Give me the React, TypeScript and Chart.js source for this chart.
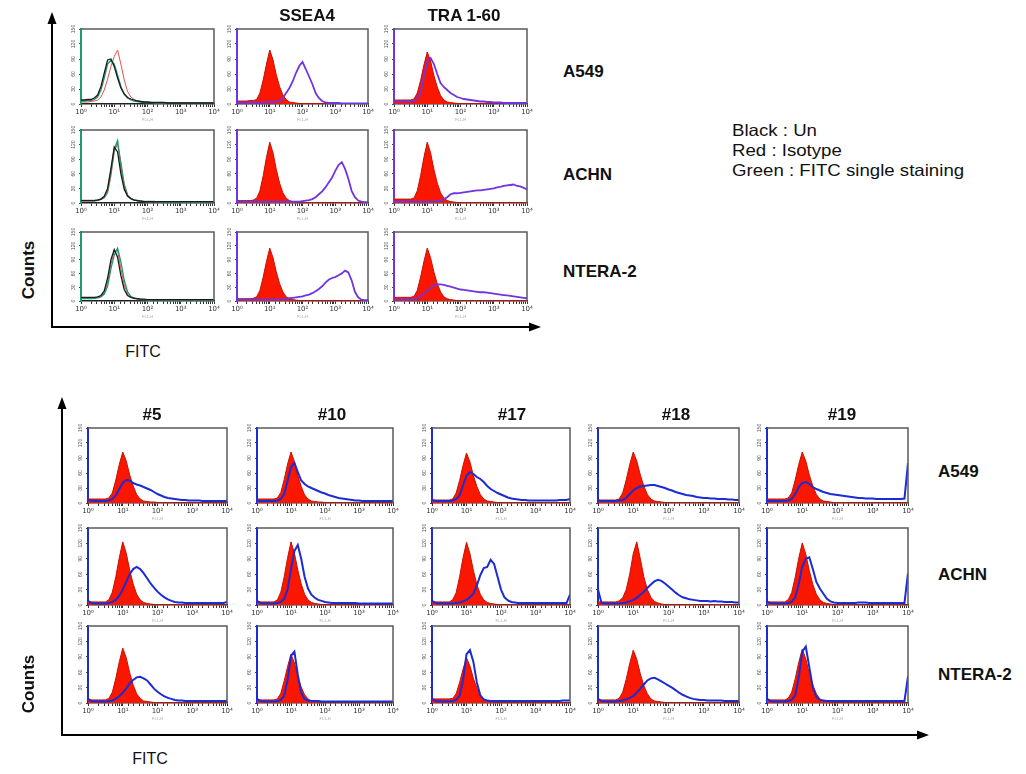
import React, { useEffect, useRef } from 'react';
import { Chart, registerables } from 'chart.js';

Chart.register(...registerables);

const FONT = "'Liberation Sans', Arial, sans-serif";

// FL1-H channel positions (log-spaced, 10 per decade), shared by every histogram
const FL1_H = [
  1, 1.259, 1.585, 1.995, 2.512, 3.162, 3.981, 5.012, 6.31, 7.943,
  10, 12.59, 15.85, 19.95, 25.12, 31.62, 39.81, 50.12, 63.1, 79.43,
  100, 125.9, 158.5, 199.5, 251.2, 316.2, 398.1, 501.2, 631, 794.3,
  1000, 1259, 1585, 1995, 2512, 3162, 3981, 5012, 6310, 7943,
  10000,
];
const X_TICK_LABELS = ['10⁰', '10¹', '10²', '10³', '10⁴'];
const Y_MAX = 150;
const Y_STEP = 30;

const TOP_ROWS = ['A549', 'ACHN', 'NTERA-2'];
const TOP_COLS = ['', 'SSEA4', 'TRA 1-60'];
const BOTTOM_ROWS = ['A549', 'ACHN', 'NTERA-2'];
const BOTTOM_COLS = ['#5', '#10', '#17', '#18', '#19'];
const LEGEND_LINES = ['Black : Un', 'Red : Isotype', 'Green : FITC single staining'];

// ---------- top panel: controls (Un / Isotype / FITC single staining) ----------
const A549_UN = [8,8,9,9,12,18,35,62,88,90, 75,52,32,20,13,10,8,6,5,4, 4,3,3,3,3,3,2,2,2,2, 2,2,2,2,2,2,2,2,2,2, 2];
const A549_FITC = [6,6,7,7,9,14,28,52,80,88, 80,58,35,20,12,8,6,5,4,3, 3,3,2,2,2,2,2,2,2,2, 2,2,2,2,2,2,2,2,2,2, 2];
const A549_ISO_CTRL = [4,4,4,5,6,8,14,28,50,75, 95,108,80,48,25,14,9,6,5,4, 3,3,3,2,2,2,2,2,2,2, 2,2,2,2,2,2,2,2,2,2, 2];

const ACHN_UN = [5,5,5,5,5,6,8,14,30,70, 115,105,60,28,14,9,6,5,4,3, 3,3,3,3,3,3,3,3,3,3, 3,3,3,3,3,3,3,3,3,3, 3];
const ACHN_FITC = [5,5,5,5,5,6,8,12,25,65, 110,128,75,35,15,9,6,5,4,3, 3,3,3,2,2,2,2,2,2,2, 2,2,2,2,2,2,2,2,2,2, 2];
const ACHN_ISO_CTRL = [4,4,4,4,4,5,7,10,20,55, 105,122,85,40,18,10,6,4,3,3, 2,2,2,2,2,2,2,2,2,2, 2,2,2,2,2,2,2,2,2,2, 2];

const NTERA_UN = [8,8,8,8,8,9,12,22,50,90, 112,95,55,25,12,8,6,5,4,4, 3,3,3,3,3,3,3,3,3,3, 3,3,3,3,3,3,3,3,3,3, 3];
const NTERA_FITC = [5,5,5,5,6,7,9,15,32,70, 100,115,85,45,20,10,6,4,3,3, 2,2,2,2,2,2,2,2,2,2, 2,2,2,2,2,2,2,2,2,2, 2];
const NTERA_ISO_CTRL = [6,6,6,6,7,8,10,18,40,80, 108,110,70,35,15,9,6,5,4,3, 3,3,3,3,3,2,2,2,2,2, 2,2,2,2,2,2,2,2,2,2, 2];

// ---------- top panel: SSEA4 / TRA 1-60 ----------
const A549_SSEA4_ISO = [6,6,6,6,7,7,9,22,48,80, 108,88,58,35,18,9,4,3,2,1, 1,1,1,1,1,1,1,1,1,1, 1,1,1,1,1,1,1,1,1,1, 1];
const A549_SSEA4 = [4,3,3,3,3,3,3,3,3,4, 4,4,5,6,12,22,32,45,62,76, 84,70,55,40,22,12,6,3,2,2, 2,2,1,1,1,1,1,1,1,1, 1];
const A549_TRA_ISO = [8,8,8,8,8,8,10,22,47,78, 104,86,57,34,17,8,4,3,2,1, 1,1,1,1,1,1,1,1,1,1, 1,1,1,1,1,1,1,1,1,1, 1];
const A549_TRA = [5,5,5,5,5,5,6,10,22,55, 85,92,80,60,42,34,28,22,18,14, 12,10,9,8,7,6,5,5,4,4, 3,3,3,2,2,2,2,2,2,2, 2];

const ACHN_SSEA4_ISO = [5,5,5,5,5,6,10,25,56,94, 125,103,69,41,21,10,5,3,2,1, 1,1,1,1,1,1,1,1,1,1, 1,1,1,1,1,1,1,1,1,1, 1];
const ACHN_SSEA4 = [4,3,3,3,3,3,3,3,3,3, 3,3,3,3,3,3,3,3,3,3, 4,5,6,8,12,18,24,32,42,52, 66,78,84,70,50,25,12,5,3,2, 2];
const ACHN_TRA_ISO = [8,8,8,8,8,8,10,25,56,94, 125,103,69,41,21,10,5,3,2,1, 1,1,1,1,1,1,1,1,1,1, 1,1,1,1,1,1,1,1,1,1, 1];
const ACHN_TRA = [3,3,3,3,3,3,3,3,3,3, 3,3,3,4,5,8,12,18,20,20, 21,22,23,24,25,26,26,27,28,29, 30,32,33,35,36,37,38,35,34,31, 28];

const NTERA_SSEA4_ISO = [5,5,5,5,5,6,9,23,52,86, 115,94,63,38,20,9,5,3,2,1, 1,1,1,1,1,1,1,1,1,1, 1,1,1,1,1,1,1,1,1,1, 1];
const NTERA_SSEA4 = [3,3,3,3,3,3,3,3,3,3, 3,3,3,3,4,5,6,7,8,9, 10,12,14,17,21,26,32,40,46,50, 52,56,60,66,62,45,20,8,3,2, 2];
const NTERA_TRA_ISO = [8,8,8,8,8,8,10,23,52,86, 115,94,63,38,20,9,5,3,2,1, 1,1,1,1,1,1,1,1,1,1, 1,1,1,1,1,1,1,1,1,1, 1];
const NTERA_TRA = [3,3,3,3,3,3,4,6,10,16, 22,28,34,36,36,35,33,31,29,27, 25,24,23,22,21,20,19,19,18,17, 16,15,14,13,12,11,10,9,8,7, 6];

// ---------- bottom panel: clones #5 #10 #17 #18 #19 ----------
const C5_A549_ISO = [8,8,8,8,8,8,10,20,46,77, 102,84,56,34,17,8,4,3,2,2, 1,1,1,1,1,1,1,1,1,1, 1,1,1,1,1,1,1,1,1,1, 1];
const C5_A549 = [6,5,4,4,4,4,5,8,15,28, 40,46,45,40,37,35,32,29,26,22, 18,15,12,10,9,8,7,6,6,5, 5,5,5,4,4,4,4,4,4,4, 4];
const C10_A549_ISO = [8,8,8,8,8,8,10,21,47,78, 102,83,55,33,16,8,4,3,2,2, 1,1,1,1,1,1,1,1,1,1, 1,1,1,1,1,1,1,1,1,1, 1];
const C10_A549 = [5,4,4,4,4,4,5,8,18,45, 72,80,62,45,38,33,30,27,24,21, 19,16,14,12,10,9,8,7,6,5, 5,4,4,4,4,4,4,4,4,4, 4];
const C17_A549_ISO = [6,6,6,6,6,6,8,20,45,75, 100,82,55,33,17,8,4,3,2,1, 1,1,1,1,1,1,1,1,1,1, 1,1,1,1,1,1,1,1,1,1, 1];
const C17_A549 = [6,4,4,4,4,4,5,8,15,35, 55,62,58,52,48,42,34,28,24,20, 17,14,11,9,8,7,6,6,5,5, 5,5,5,5,5,5,5,6,6,6, 8];
const C18_A549_ISO = [6,6,6,6,6,6,8,20,46,77, 102,84,56,34,17,8,4,3,2,1, 1,1,1,1,1,1,1,1,1,1, 1,1,1,1,1,1,1,1,1,1, 1];
const C18_A549 = [5,4,4,4,4,4,5,6,10,18, 25,30,33,34,35,36,36,34,32,30, 27,25,22,20,18,16,15,14,12,11, 10,10,9,9,8,8,8,7,7,6, 6];
const C19_A549_ISO = [8,8,8,8,8,8,10,20,46,77, 102,84,56,34,17,8,4,3,2,1, 1,1,1,1,1,1,1,1,1,1, 1,1,1,1,1,1,1,1,1,1, 1];
const C19_A549 = [5,4,4,4,4,4,5,8,18,32, 40,42,38,32,28,25,22,20,18,17, 16,15,14,13,12,11,10,10,9,9, 9,8,8,8,8,8,8,8,8,9, 80];

const C5_ACHN_ISO = [6,6,6,6,6,6,10,25,55,92, 123,101,68,41,21,10,5,3,2,1, 1,1,1,1,1,1,1,1,1,1, 1,1,1,1,1,1,1,1,1,1, 1];
const C5_ACHN = [8,4,3,3,3,3,4,6,10,18, 30,45,60,70,74,70,62,52,42,34, 26,20,15,11,8,6,5,5,4,4, 4,4,4,4,4,4,4,4,4,4, 6];
const C10_ACHN_ISO = [6,6,6,6,6,6,10,25,55,92, 123,101,68,41,21,10,5,3,2,1, 1,1,1,1,1,1,1,1,1,1, 1,1,1,1,1,1,1,1,1,1, 1];
const C10_ACHN = [8,4,3,3,3,3,4,6,12,30, 70,105,117,90,55,32,20,14,10,8, 6,5,4,4,4,4,4,4,4,4, 3,3,3,3,3,3,3,3,3,3, 3];
const C17_ACHN_ISO = [6,6,6,6,6,6,10,24,55,92, 122,100,67,40,21,10,5,3,2,1, 1,1,1,1,1,1,1,1,1,1, 1,1,1,1,1,1,1,1,1,1, 1];
const C17_ACHN = [8,4,3,3,3,3,3,4,5,7, 10,15,22,38,58,72,74,88,80,55, 30,15,9,6,5,4,4,4,4,4, 4,4,4,4,4,4,4,4,4,4, 20];
const C18_ACHN_ISO = [6,6,6,6,6,6,8,14,30,60, 100,123,90,55,30,15,7,4,2,1, 1,1,1,1,1,1,1,1,1,1, 1,1,1,1,1,1,1,1,1,1, 1];
const C18_ACHN = [30,4,3,3,3,3,3,4,5,7, 10,14,20,26,33,40,46,49,47,42, 36,30,24,19,15,13,11,10,9,8, 8,8,7,8,7,7,6,6,6,5, 5];
const C19_ACHN_ISO = [6,6,6,6,6,6,10,24,54,91, 121,99,67,40,21,10,5,3,2,1, 1,1,1,1,1,1,1,1,1,1, 1,1,1,1,1,1,1,1,1,1, 1];
const C19_ACHN = [6,4,3,3,3,3,4,6,15,40, 75,90,93,70,45,32,22,12,7,5, 4,4,4,4,4,4,5,5,5,4, 4,4,4,4,4,4,4,4,4,4, 62];

const C5_NTERA_ISO = [6,6,6,6,6,6,9,21,48,80, 107,88,59,35,18,9,4,3,2,1, 1,1,1,1,1,1,1,1,1,1, 1,1,1,1,1,1,1,1,1,1, 1];
const C5_NTERA = [8,4,3,3,3,3,4,5,8,13, 20,28,38,45,50,51,48,44,36,28, 22,17,13,10,8,6,5,5,4,4, 4,4,4,4,4,4,4,4,4,4, 4];
const C10_NTERA_ISO = [6,6,6,6,6,6,8,19,43,71, 95,78,52,31,16,8,4,3,2,1, 1,1,1,1,1,1,1,1,1,1, 1,1,1,1,1,1,1,1,1,1, 1];
const C10_NTERA = [8,4,3,3,3,3,4,6,14,45, 92,100,55,20,8,5,4,4,4,3, 3,3,3,3,3,3,3,3,3,3, 3,3,3,3,3,3,3,3,3,3, 3];
const C17_NTERA_ISO = [8,8,8,8,8,8,9,18,40,66, 88,72,48,29,15,7,4,3,2,1, 1,1,1,1,1,1,1,1,1,1, 1,1,1,1,1,1,1,1,1,1, 1];
const C17_NTERA = [8,4,3,3,3,3,4,6,14,45, 95,103,80,40,15,7,5,4,4,4, 4,4,4,4,4,4,4,4,4,4, 4,4,4,4,4,4,4,4,5,5, 5];
const C18_NTERA_ISO = [6,6,6,6,6,6,9,21,46,77, 103,85,57,34,18,8,4,3,2,1, 1,1,1,1,1,1,1,1,1,1, 1,1,1,1,1,1,1,1,1,1, 1];
const C18_NTERA = [8,4,3,3,3,3,4,5,7,10, 14,20,28,36,44,48,49,46,42,38, 34,30,25,20,16,13,10,8,7,6, 6,5,5,5,5,5,4,4,4,4, 4];
const C19_NTERA_ISO = [6,6,6,6,6,6,9,21,47,79, 105,86,58,35,18,8,4,3,2,1, 1,1,1,1,1,1,1,1,1,1, 1,1,1,1,1,1,1,1,1,1, 1];
const C19_NTERA = [8,4,3,3,3,3,4,6,15,50, 100,110,70,30,12,6,5,4,4,4, 4,4,4,4,4,4,4,4,4,4, 4,4,4,4,4,4,4,4,4,4, 52];

// ---------- styles ----------
const PURPLE = '#7035e2';
const BLUE = '#1b2cd4';
const ISO_FILL = '#fb1600';
const ISO_EDGE = '#c41200';
const BLACK_LINE = '#1c1c1c';
const RED_LINE = '#e2534c';
const GREEN_LINE = '#1e9a72';

type Series = { values: number[]; color: string; width: number; fill?: string };
type PanelSpec = { left: number; top: number; width: number; height: number; axisColor: string; series: Series[] };

const line = (values: number[], color: string, width = 1.8): Series => ({ values, color, width });
const iso = (values: number[]): Series => ({ values, color: ISO_EDGE, width: 1, fill: ISO_FILL });

const TOP_SERIES: Series[][][] = [
  [
    [line(A549_UN, BLACK_LINE, 1.3), line(A549_FITC, GREEN_LINE, 1.3), line(A549_ISO_CTRL, RED_LINE, 1)],
    [line(A549_SSEA4, PURPLE), iso(A549_SSEA4_ISO)],
    [line(A549_TRA, PURPLE), iso(A549_TRA_ISO)],
  ],
  [
    [line(ACHN_UN, BLACK_LINE, 1.3), line(ACHN_FITC, GREEN_LINE, 1.5), line(ACHN_ISO_CTRL, RED_LINE, 1)],
    [line(ACHN_SSEA4, PURPLE), iso(ACHN_SSEA4_ISO)],
    [line(ACHN_TRA, PURPLE), iso(ACHN_TRA_ISO)],
  ],
  [
    [line(NTERA_UN, BLACK_LINE, 1.3), line(NTERA_FITC, GREEN_LINE, 1.3), line(NTERA_ISO_CTRL, RED_LINE, 1)],
    [line(NTERA_SSEA4, PURPLE), iso(NTERA_SSEA4_ISO)],
    [line(NTERA_TRA, PURPLE), iso(NTERA_TRA_ISO)],
  ],
];

const BOTTOM_SERIES: Series[][][] = [
  [
    [line(C5_A549, BLUE, 2), iso(C5_A549_ISO)],
    [line(C10_A549, BLUE, 2), iso(C10_A549_ISO)],
    [line(C17_A549, BLUE, 2), iso(C17_A549_ISO)],
    [line(C18_A549, BLUE, 2), iso(C18_A549_ISO)],
    [line(C19_A549, BLUE, 2), iso(C19_A549_ISO)],
  ],
  [
    [line(C5_ACHN, BLUE, 2), iso(C5_ACHN_ISO)],
    [line(C10_ACHN, BLUE, 2), iso(C10_ACHN_ISO)],
    [line(C17_ACHN, BLUE, 2), iso(C17_ACHN_ISO)],
    [line(C18_ACHN, BLUE, 2), iso(C18_ACHN_ISO)],
    [line(C19_ACHN, BLUE, 2), iso(C19_ACHN_ISO)],
  ],
  [
    [line(C5_NTERA, BLUE, 2), iso(C5_NTERA_ISO)],
    [line(C10_NTERA, BLUE, 2), iso(C10_NTERA_ISO)],
    [line(C17_NTERA, BLUE, 2), iso(C17_NTERA_ISO)],
    [line(C18_NTERA, BLUE, 2), iso(C18_NTERA_ISO)],
    [line(C19_NTERA, BLUE, 2), iso(C19_NTERA_ISO)],
  ],
];

// ---------- layout (plot-area boxes, in page pixels) ----------
const TOP_X = [81, 237, 394];
const TOP_W = [133, 131, 133];
const TOP_Y = [29, 130, 232];
const TOP_H = [75, 73, 69];
const BOT_X = [88, 257, 432, 598, 767];
const BOT_W = [139, 136, 138, 141, 141];
const BOT_Y = [428, 528, 626];
const BOT_H = [75, 77, 77];

const Y_AXIS_W = 14;
const X_AXIS_H = 18;
const PAD_TOP = 6;
const PAD_RIGHT = 8;

const PANELS: PanelSpec[] = [];
TOP_SERIES.forEach((row, r) =>
  row.forEach((series, c) =>
    PANELS.push({
      left: TOP_X[c], top: TOP_Y[r], width: TOP_W[c], height: TOP_H[r],
      axisColor: c === 0 ? GREEN_LINE : PURPLE, series,
    })
  )
);
BOTTOM_SERIES.forEach((row, r) =>
  row.forEach((series, c) =>
    PANELS.push({ left: BOT_X[c], top: BOT_Y[r], width: BOT_W[c], height: BOT_H[r], axisColor: BLUE, series })
  )
);

const framePlugin = {
  id: 'plotFrame',
  afterDraw(chart: any) {
    const { ctx, chartArea: a } = chart;
    ctx.save();
    ctx.strokeStyle = '#5a5a5a';
    ctx.lineWidth = 1.5;
    ctx.beginPath();
    ctx.moveTo(a.left, a.top);
    ctx.lineTo(a.right, a.top);
    ctx.lineTo(a.right, a.bottom);
    ctx.stroke();
    ctx.restore();
  },
};

function MiniHistogram({ spec }: { spec: PanelSpec }) {
  const ref = useRef<HTMLCanvasElement>(null);
  const cw = spec.width + Y_AXIS_W + PAD_RIGHT;
  const ch = spec.height + PAD_TOP + X_AXIS_H;
  useEffect(() => {
    if (!ref.current) return;
    const chart = new Chart(ref.current, {
      type: 'line',
      data: {
        datasets: spec.series.map((s) => ({
          data: FL1_H.map((x, i) => ({ x, y: s.values[i] })),
          borderColor: s.color,
          borderWidth: s.width,
          backgroundColor: s.fill ?? 'rgba(0,0,0,0)',
          fill: s.fill ? 'origin' : false,
          pointRadius: 0,
          tension: 0,
        })),
      },
      options: {
        animation: false,
        responsive: false,
        maintainAspectRatio: false,
        devicePixelRatio: 1,
        events: [],
        layout: { padding: { top: PAD_TOP, right: PAD_RIGHT, left: 0, bottom: 0 } },
        plugins: { legend: { display: false }, tooltip: { enabled: false } },
        scales: {
          x: {
            type: 'logarithmic',
            min: 1,
            max: 10000,
            grid: { display: true, drawOnChartArea: false, drawTicks: true, tickLength: 3, color: '#333', lineWidth: 1 },
            border: { display: true, color: '#222', width: 1.5 },
            ticks: {
              autoSkip: false,
              maxRotation: 0,
              minRotation: 0,
              padding: 1,
              color: '#333',
              font: { size: 7, family: "'DejaVu Sans', sans-serif" },
              callback: (v: any) => {
                const n = Number(v);
                const e = Math.round(Math.log10(n));
                return Math.abs(n - Math.pow(10, e)) < 1e-6 ? X_TICK_LABELS[e] : '';
              },
            },
            title: { display: true, text: 'FL1-H', color: '#aaa', font: { size: 4 }, padding: 0 },
            afterFit: (s: any) => {
              s.height = X_AXIS_H;
              s.paddingLeft = 0;
              s.paddingRight = 0;
            },
          },
          y: {
            type: 'linear',
            min: 0,
            max: Y_MAX,
            grid: { display: true, drawOnChartArea: false, drawTicks: true, tickLength: 2, color: '#444' },
            border: { display: true, color: spec.axisColor, width: 2 },
            ticks: {
              stepSize: Y_STEP,
              minRotation: 90,
              maxRotation: 90,
              crossAlign: 'center',
              padding: 1,
              color: '#555',
              font: { size: 5, family: FONT },
            },
            afterFit: (s: any) => {
              s.width = Y_AXIS_W;
              s.paddingTop = 0;
              s.paddingBottom = 0;
            },
          },
        },
      } as any,
      plugins: [framePlugin],
    });
    return () => chart.destroy();
  }, [spec]);
  return (
    <canvas
      ref={ref}
      width={cw}
      height={ch}
      style={{ position: 'absolute', left: spec.left - Y_AXIS_W, top: spec.top - PAD_TOP, width: cw, height: ch }}
    />
  );
}

const centered = (x: number, y: number, extra: React.CSSProperties = {}): React.CSSProperties => ({
  position: 'absolute',
  left: x,
  top: y,
  transform: 'translate(-50%, -50%)',
  whiteSpace: 'nowrap',
  lineHeight: 1,
  color: '#111',
  ...extra,
});

const TOP_COL_CX = [147, 307, 464];
const TOP_ROW_CY = [72, 175, 272];
const BOT_COL_CX = [152, 332, 512, 676, 842];
const BOT_ROW_CY = [472, 575, 675];

export default function App() {
  return (
    <div
      style={{
        position: 'absolute', left: 0, top: 0, width: 1026, height: 774,
        background: '#fff', fontFamily: FONT, overflow: 'hidden',
      }}
    >
      <svg width={1026} height={774} style={{ position: 'absolute', left: 0, top: 0 }}>
        <line x1={52} y1={22} x2={52} y2={328} stroke="#000" strokeWidth={2} />
        <polygon points="52,12 47.5,24 56.5,24" fill="#000" />
        <line x1={51} y1={327} x2={530} y2={327} stroke="#000" strokeWidth={2} />
        <polygon points="541,327 529,322.5 529,331.5" fill="#000" />
        <line x1={62} y1={407} x2={62} y2={736} stroke="#000" strokeWidth={2} />
        <polygon points="62,397 57.5,409 66.5,409" fill="#000" />
        <line x1={61} y1={735} x2={918} y2={735} stroke="#000" strokeWidth={2} />
        <polygon points="929,735 917,730.5 917,739.5" fill="#000" />
      </svg>

      {PANELS.map((p, i) => (
        <MiniHistogram key={i} spec={p} />
      ))}

      {TOP_COLS.map((t, i) =>
        t ? (
          <div key={'tc' + i} style={centered(TOP_COL_CX[i], 15, { fontSize: 17, fontWeight: 'bold' })}>
            {t}
          </div>
        ) : null
      )}
      {TOP_ROWS.map((t, i) => (
        <div key={'tr' + i} style={{ position: 'absolute', left: 563, top: TOP_ROW_CY[i] - 9, fontSize: 17, fontWeight: 'bold', lineHeight: 1, color: '#111', whiteSpace: 'nowrap' }}>
          {t}
        </div>
      ))}
      {BOTTOM_COLS.map((t, i) => (
        <div key={'bc' + i} style={centered(BOT_COL_CX[i], 414, { fontSize: 17, fontWeight: 'bold' })}>
          {t}
        </div>
      ))}
      {BOTTOM_ROWS.map((t, i) => (
        <div key={'br' + i} style={{ position: 'absolute', left: 938, top: BOT_ROW_CY[i] - 9, fontSize: 17, fontWeight: 'bold', lineHeight: 1, color: '#111', whiteSpace: 'nowrap' }}>
          {t}
        </div>
      ))}

      <div style={{ position: 'absolute', left: 732, top: 120, fontSize: 16.5, lineHeight: '20px', color: '#111', transform: 'scaleX(1.13)', transformOrigin: 'left top', whiteSpace: 'nowrap' }}>
        {LEGEND_LINES.map((l, i) => (
          <div key={i}>{l}</div>
        ))}
      </div>

      <div style={centered(28, 270, { fontSize: 17, fontWeight: 'bold', transform: 'translate(-50%, -50%) rotate(-90deg)' })}>Counts</div>
      <div style={centered(28, 684, { fontSize: 17, fontWeight: 'bold', transform: 'translate(-50%, -50%) rotate(-90deg)' })}>Counts</div>
      <div style={centered(143, 352, { fontSize: 16 })}>FITC</div>
      <div style={centered(150, 759, { fontSize: 16 })}>FITC</div>
    </div>
  );
}
